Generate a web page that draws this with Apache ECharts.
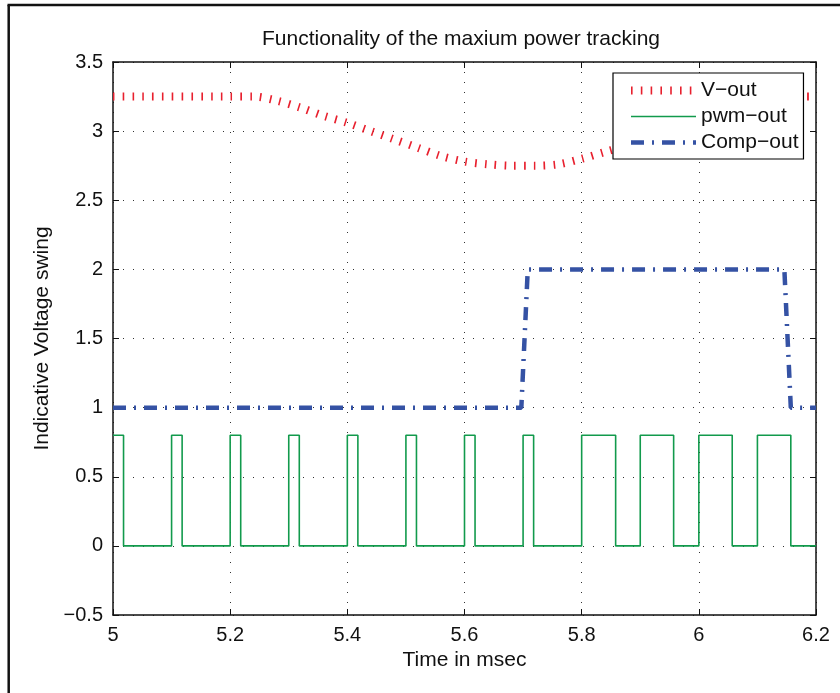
<!DOCTYPE html>
<html>
<head>
<meta charset="utf-8">
<script src="https://cdn.jsdelivr.net/npm/echarts@6/dist/echarts.min.js"></script>
<style>
  html, body { margin: 0; padding: 0; background: #fff; }
  #chart { width: 840px; height: 693px; }
</style>
</head>
<body>
<div id="chart"></div>
<script>
// V-out
const vTime = [5.0, 5.2, 5.24, 5.28, 5.32, 5.36, 5.40, 5.44, 5.48, 5.52, 5.56, 5.60, 5.64, 5.68, 5.72, 5.76, 5.80, 5.84, 5.88, 5.92, 5.96, 6.00, 6.04, 6.08, 6.12, 6.16, 6.20];
const vOut  = [3.25, 3.25, 3.25, 3.22, 3.17, 3.11, 3.06, 3.00, 2.94, 2.88, 2.82, 2.78, 2.76, 2.75, 2.75, 2.76, 2.80, 2.85, 2.90, 2.97, 3.04, 3.11, 3.17, 3.21, 3.24, 3.25, 3.25];

// pwm-out pulse edges (msec) and levels
const pwmRise = [5.0, 5.1, 5.2, 5.3, 5.4, 5.5, 5.6, 5.7, 5.8, 5.9, 6.0, 6.1];
const pwmFall = [5.018, 5.118, 5.218, 5.318, 5.418, 5.518, 5.618, 5.718, 5.858, 5.957, 6.057, 6.157];
const pwmHigh = 0.8;
const pwmLow = 0;

// Comp-out
const compTime = [5.0, 5.697, 5.708, 6.146, 6.157, 6.2];
const compOut  = [1, 1, 2, 2, 1, 1];

const FONT = "'Liberation Sans', Arial, sans-serif";
const RED = "#e8202e", GREEN = "#129a4c", BLUE = "#3552a4";
const vDash = [1.6, 8.2], compDash = [13, 8, 2, 8];

let myChart = echarts.init(document.getElementById("chart"));

const vData = vTime.map((t, i) => [t, vOut[i]]);
let pwmData = [];
pwmRise.forEach((r, i) => {
  if (i > 0) pwmData.push([r, pwmLow]);
  pwmData.push([r, pwmHigh]);
  pwmData.push([pwmFall[i], pwmHigh]);
  pwmData.push([pwmFall[i], pwmLow]);
});
pwmData.push([6.2, pwmLow]);
const compData = compTime.map((t, i) => [t, compOut[i]]);

const gridLine = {
  show: true,
  lineStyle: { color: "#333", width: 1, type: [1, 9] }
};
const hidden = { opacity: 0 };

let option = {
  animation: false,
  title: {
    text: "Functionality of the maxium power tracking",
    left: 257,
    top: 24,
    textStyle: { color: "#111", fontSize: 21, fontWeight: "normal", fontFamily: FONT }
  },
  legend: {
    orient: "vertical",
    left: 613,
    top: 73,
    itemWidth: 65,
    itemHeight: 14,
    itemGap: 5,
    padding: [7, 5, 6, 14],
    backgroundColor: "#fff",
    borderColor: "#000",
    borderWidth: 1.2,
    borderRadius: 0,
    textStyle: { color: "#111", fontSize: 21, fontFamily: FONT },
    data: [
      { name: "V−out", itemStyle: hidden, lineStyle: { color: RED, width: 8, type: vDash, cap: "butt" } },
      { name: "pwm−out", itemStyle: hidden, lineStyle: { color: GREEN, width: 1.6 } },
      { name: "Comp−out", itemStyle: hidden, lineStyle: { color: BLUE, width: 4.5, type: compDash, cap: "butt" } }
    ],
    z: 10
  },
  grid: { left: 113, right: 24, top: 62, bottom: 78 },
  xAxis: [
    {
      type: "value",
      min: 5,
      max: 6.2,
      interval: 0.2,
      name: "Time in msec",
      nameLocation: "middle",
      nameGap: 35,
      nameTextStyle: { color: "#111", fontSize: 21, fontFamily: FONT },
      axisLine: { onZero: false, lineStyle: { color: "#111", width: 1.5 } },
      axisTick: { inside: true, length: 6, lineStyle: { color: "#111" } },
      axisLabel: { color: "#111", fontSize: 20, fontFamily: FONT, margin: 10,
        formatter: v => String(+v.toFixed(1)) },
      splitLine: gridLine
    },
    {
      type: "value",
      position: "top",
      min: 5,
      max: 6.2,
      interval: 0.2,
      axisLine: { onZero: false, lineStyle: { color: "#111", width: 1.5 } },
      axisTick: { inside: true, length: 6, lineStyle: { color: "#111" } },
      axisLabel: { show: false },
      splitLine: { show: false }
    }
  ],
  yAxis: [
    {
      type: "value",
      min: -0.5,
      max: 3.5,
      interval: 0.5,
      name: "Indicative Voltage swing",
      nameLocation: "middle",
      nameGap: 60,
      nameTextStyle: { color: "#111", fontSize: 21, fontFamily: FONT },
      axisLine: { onZero: false, lineStyle: { color: "#111", width: 1.5 } },
      axisTick: { inside: true, length: 6, lineStyle: { color: "#111" } },
      axisLabel: { color: "#111", fontSize: 20, fontFamily: FONT, margin: 10,
        formatter: v => String(+v.toFixed(1)).replace("-", "−") },
      splitLine: gridLine
    },
    {
      type: "value",
      position: "right",
      min: -0.5,
      max: 3.5,
      interval: 0.5,
      axisLine: { onZero: false, lineStyle: { color: "#111", width: 1.5 } },
      axisTick: { inside: true, length: 6, lineStyle: { color: "#111" } },
      axisLabel: { show: false },
      splitLine: { show: false }
    }
  ],
  graphic: [
    { type: "line", shape: { x1: 8.7, y1: 5, x2: 8.7, y2: 700 }, style: { stroke: "#111", lineWidth: 2.5 } },
    { type: "line", shape: { x1: 7.5, y1: 5, x2: 850, y2: 5 }, style: { stroke: "#111", lineWidth: 2.5 } }
  ],
  series: [
    {
      name: "V−out",
      type: "line",
      symbol: "none",
      data: vData,
      smooth: 0.3,
      lineStyle: { color: RED, width: 8, type: vDash, cap: "butt" },
      itemStyle: { color: RED },
      z: 2
    },
    {
      name: "pwm−out",
      type: "line",
      symbol: "none",
      data: pwmData,
      lineStyle: { color: GREEN, width: 1.6 },
      itemStyle: { color: GREEN },
      z: 3
    },
    {
      name: "Comp−out",
      type: "line",
      symbol: "none",
      data: compData,
      lineStyle: { color: BLUE, width: 4.5, type: compDash, cap: "butt" },
      itemStyle: { color: BLUE },
      z: 4
    }
  ]
};
myChart.setOption(option);
window.addEventListener("resize", () => myChart.resize(), false);
</script>
</body>
</html>
